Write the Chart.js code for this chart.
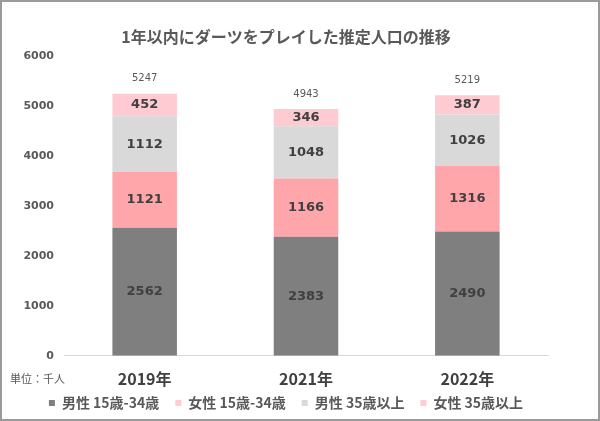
<!DOCTYPE html>
<html><head><meta charset="utf-8">
<script src="https://cdn.jsdelivr.net/npm/chart.js@4/dist/chart.umd.min.js"></script>
<style>
html,body{margin:0;padding:0;background:#fff;}
#wrap{position:relative;width:600px;height:421px;}
#frame{position:absolute;left:0;top:0;width:596px;height:417px;border:2px solid #9a9a9a;pointer-events:none;}
canvas{display:block;}
</style></head>
<body>
<div id="wrap"><canvas id="c" width="600" height="421"></canvas><div id="frame"></div></div>
<script>
const categories = ['2019年', '2021年', '2022年'];
const seriesNames = ['男性 15歳-34歳', '女性 15歳-34歳', '男性 35歳以上', '女性 35歳以上'];
const male15_34 = [2562, 2383, 2490];
const female15_34 = [1121, 1166, 1316];
const male35plus = [1112, 1048, 1026];
const female35plus = [452, 346, 387];
const totals = [5247, 4943, 5219];
const yTicks = [0, 1000, 2000, 3000, 4000, 5000, 6000];
const colors = ['#7f7f7f', '#ffa6aa', '#d9d9d9', '#ffcbd2'];
const legendColors = ['#7f7f7f', '#ffccd6', '#d9d9d9', '#ffccd6'];
const FONT = "'Noto Sans CJK JP', 'Noto Sans', sans-serif";
const NUMFONT = "'DejaVu Sans', 'Noto Sans CJK JP', sans-serif";

const seriesData = [male15_34, female15_34, male35plus, female35plus];

const LEGEND_SHIFT = 23;

const labelPlugin = {
  id: 'labels',
  afterLayout(chart) {
    if (chart.legend) { chart.legend.top -= LEGEND_SHIFT; chart.legend.bottom -= LEGEND_SHIFT; }
  },
  afterDatasetsDraw(chart) {
    const ctx = chart.ctx;
    ctx.save();
    ctx.textAlign = 'center';
    ctx.textBaseline = 'middle';
    chart.data.datasets.forEach((ds, i) => {
      const meta = chart.getDatasetMeta(i);
      meta.data.forEach((bar, j) => {
        const cy = (bar.y + bar.base) / 2;
        ctx.font = "bold 13px " + NUMFONT;
        ctx.fillStyle = '#404040';
        ctx.fillText(String(ds.data[j]), bar.x, cy);
      });
    });
    const top = chart.getDatasetMeta(chart.data.datasets.length - 1);
    const ys = chart.scales.y;
    top.data.forEach((bar, j) => {
      ctx.font = "10px " + NUMFONT;
      ctx.fillStyle = '#595959';
      ctx.fillText(String(totals[j]), bar.x, ys.getPixelForValue(totals[j]) - 15);
    });
    ctx.font = "11px " + FONT;
    ctx.fillStyle = '#595959';
    ctx.textAlign = 'left';
    ctx.fillText('単位：千人', 10, 379);
    ctx.restore();
  }
};

new Chart(document.getElementById('c'), {
  type: 'bar',
  data: {
    labels: categories,
    datasets: seriesData.map((d, i) => ({
      label: seriesNames[i],
      data: d,
      backgroundColor: colors[i],
      borderWidth: 0,
      categoryPercentage: 1,
      barPercentage: 0.4
    }))
  },
  options: {
    responsive: false,
    animation: false,
    devicePixelRatio: 1,
    layout: { padding: { left: 0, right: 28, top: 0, bottom: -22 } },
    plugins: {
      title: {
        display: true,
        text: '1年以内にダーツをプレイした推定人口の推移',
        color: '#595959',
        font: { family: FONT, size: 16, weight: 'bold' },
        padding: { top: 27, bottom: 10 }
      },
      legend: {
        position: 'bottom',
        labels: {
          color: '#595959',
          font: { family: FONT, size: 14, weight: 'bold' },
          boxWidth: 6,
          boxHeight: 6,
          padding: 16,
          generateLabels(chart) {
            return seriesNames.map((n, i) => ({
              text: n, fillStyle: legendColors[i], strokeStyle: legendColors[i],
              lineWidth: 0, datasetIndex: i, hidden: false, fontColor: '#595959'
            }));
          }
        }
      },
      tooltip: { enabled: false }
    },
    scales: {
      x: {
        stacked: true,
        grid: { display: false, drawTicks: false },
        border: { display: true, color: '#d9d9d9', width: 1 },
        ticks: { color: '#404040', font: { family: FONT, size: 16, weight: 'bold' }, padding: 14 }
      },
      y: {
        stacked: true,
        min: 0, max: 6000,
        afterBuildTicks(scale) { scale.ticks = yTicks.map(v => ({ value: v })); },
        afterFit(scale) { scale.width = 64; },
        grid: { display: false, drawTicks: false },
        border: { display: false },
        ticks: { color: '#595959', font: { family: NUMFONT, size: 11, weight: 'bold' }, padding: 10,
                 callback: (v) => String(v) }
      },
      y2: {
        position: 'right',
        display: true,
        min: 0, max: 6000,
        afterFit(scale) { scale.width = 24; },
        grid: { display: false, drawTicks: false },
        border: { display: false },
        ticks: { display: false }
      }
    }
  },
  plugins: [labelPlugin]
});
</script>
</body></html>
